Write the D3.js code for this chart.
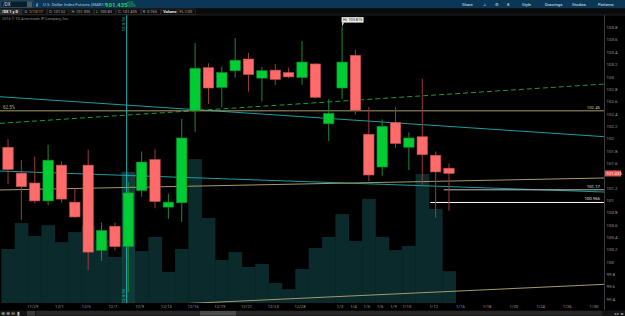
<!DOCTYPE html>
<html>
<head>
<meta charset="utf-8">
<script src="https://cdn.jsdelivr.net/npm/d3@7"></script>
<style>
  html, body { margin: 0; padding: 0; background: #000; }
  svg { display: block; font-family: Roboto, "Open Sans", sans-serif; }
</style>
</head>
<body>
<div class="result"></div>
<script>
// Width and height
const w = 625;
const h = 316;
const plotRight = 604;
const plotTop = 15;
const plotBottom = 303;

// Trading days (past + future space on the right)
const dates = ['11/25', '11/28', '11/29', '11/30', '12/1', '12/2', '12/5', '12/6', '12/7', '12/8', '12/9',
  '12/12', '12/13', '12/14', '12/15', '12/16', '12/19', '12/20', '12/21', '12/22', '12/23', '12/27',
  '12/28', '12/29', '12/30', '1/3', '1/4', '1/5', '1/6', '1/9', '1/10', '1/11', '1/12', '1/13',
  '1/16', '1/17', '1/18', '1/19', '1/20', '1/23', '1/24', '1/25', '1/26', '1/27', '1/30'];

// OHLC + volume, one value per traded day
const open = [101.86, 101.44, 101.28, 100.99, 101.57, 100.97, 101.57, 100.19, 100.58, 100.25, 101.16, 101.66,
  100.89, 100.96, 102.46, 103.15, 102.83, 103.10, 103.29, 102.98, 103.11, 103.07, 102.99, 103.21, 102.24,
  102.82, 103.35, 102.07, 101.54, 102.26, 101.86, 102.03, 101.73, 101.52];
const high = [101.99, 101.65, 101.71, 101.90, 101.63, 101.19, 101.82, 100.64, 100.64, 101.29, 101.79, 101.83,
  101.11, 102.32, 103.55, 103.22, 103.17, 103.63, 103.39, 103.16, 103.21, 103.15, 103.58, 103.22, 102.64,
  103.815, 103.44, 102.51, 102.31, 102.51, 102.10, 102.97, 101.79, 101.595];
const low = [101.26, 100.68, 100.95, 100.92, 100.96, 100.71, 99.87, 100.02, 100.19, 99.51, 101.06, 100.87,
  100.70, 100.65, 102.11, 102.56, 102.51, 102.99, 102.76, 102.60, 102.87, 102.98, 102.87, 102.65, 101.96,
  102.64, 102.39, 101.31, 101.40, 101.85, 101.49, 101.25, 100.72, 100.83];
const close = [101.50, 101.22, 100.99, 101.65, 101.02, 100.73, 100.16, 100.51, 100.25, 101.12, 101.62, 100.98,
  100.97, 102.01, 103.14, 102.82, 103.07, 103.27, 103.04, 103.10, 102.96, 103.00, 103.24, 102.67, 102.41,
  103.24, 102.46, 101.41, 102.20, 101.92, 102.01, 101.74, 101.46, 101.435];
const volume = [15600, 23100, 19400, 22500, 17600, 20500, 22300, 18200, 13300, 37900, 15000, 19100, 9000,
  15600, 41600, 24600, 12400, 14700, 10400, 11300, 5800, 4000, 9800, 15900, 19100, 25700, 17900, 30100,
  19100, 15300, 16500, 37300, 27200, 9200];

// Axis labels
const dateLabels = ['11/29', '12/1', '12/5', '12/7', '12/9', '12/13', '12/15', '12/19', '12/21', '12/23',
  '12/28', '1/3', '1/4', '1/5', '1/6', '1/9', '1/10', '1/12', '1/16', '1/18', '1/20', '1/24', '1/26', '1/30'];
const priceTicks = d3.range(99.4, 103.81, 0.2);

// Drawings: trendlines [date, price] -> [date, price], horizontal levels
const trendLines = [
  { from: ['11/25', 102.67], to: ['1/30', 102.04], color: '#1b9ea0', dash: null },
  { from: ['11/25', 102.256], to: ['1/30', 102.876], color: '#1f9a34', dash: '5,3' },
  { from: ['11/25', 101.47], to: ['1/30', 101.139], color: '#1b9ea0', dash: null },
  { from: ['11/25', 101.17], to: ['1/30', 101.359], color: '#a39a6a', dash: null },
  { from: ['12/28', 99.413], to: ['1/30', 99.632], color: '#a39a6a', dash: null }
];
const fibLevel = { price: 102.45, pct: '62.5%' };
const priceLevels = [
  { start: '1/13', price: 101.17, label: '101.17', color: '#bdbdbd' },
  { start: '1/12', price: 100.965, label: '100.965', color: '#ffffff' }
];
const markerDate = '12/8';
const lastPrice = 101.435;

// Scales
const xScale = d3.scalePoint().domain(dates).range([0, plotRight]).padding(0.6);
const step = xScale.step();
const xIdx = d3.scaleLinear().domain([0, dates.length - 1]).range([xScale(dates[0]), xScale(dates[dates.length - 1])]);
const yScale = d3.scaleLinear().domain([100, 103]).range([262, 76.9]);
const vScale = d3.scaleLinear().domain([0, 50000]).range([plotBottom, 130]);

const bars = open.map((o, i) => ({
  date: dates[i], o: o, h: high[i], l: low[i], c: close[i], v: volume[i]
}));

// Create SVG element
const svg = d3.select('.result').append('svg').attr('width', w).attr('height', h);
svg.append('rect').attr('width', w).attr('height', h).attr('fill', '#000');

svg.append('clipPath').attr('id', 'plot')
  .append('rect').attr('x', 0).attr('y', plotTop).attr('width', plotRight).attr('height', plotBottom - plotTop);
const plot = svg.append('g').attr('clip-path', 'url(#plot)');

// Volume histogram
plot.selectAll('rect.vol')
  .data(bars)
  .enter()
  .append('rect')
  .attr('class', 'vol')
  .attr('x', d => xScale(d.date) - step / 2)
  .attr('y', d => vScale(d.v))
  .attr('width', step + 0.3)
  .attr('height', d => plotBottom - vScale(d.v))
  .attr('fill', d => d.date === markerDate ? '#123a3b' : '#0b2a2b');

// Trend lines, extended across the whole plot
const lineGen = d3.line();
trendLines.forEach(t => {
  const i0 = dates.indexOf(t.from[0]);
  const i1 = dates.indexOf(t.to[0]);
  const p = d3.scaleLinear().domain([i0, i1]).range([t.from[1], t.to[1]]);
  const a = xIdx.invert(0);
  const b = xIdx.invert(plotRight);
  plot.append('path')
    .attr('d', lineGen([[0, yScale(p(a))], [plotRight, yScale(p(b))]]))
    .attr('stroke', t.color)
    .attr('stroke-width', 1)
    .attr('stroke-dasharray', t.dash)
    .attr('fill', 'none');
});

// Fib level
plot.append('line')
  .attr('x1', 0).attr('x2', plotRight)
  .attr('y1', yScale(fibLevel.price)).attr('y2', yScale(fibLevel.price))
  .attr('stroke', '#a89c6c').attr('stroke-width', 1);
svg.append('text').attr('x', 3).attr('y', yScale(fibLevel.price) - 2)
  .attr('font-size', 4.5).attr('fill', '#b8ad80').text(fibLevel.pct);
svg.append('text').attr('x', 600).attr('y', yScale(fibLevel.price) - 2)
  .attr('text-anchor', 'end').attr('font-size', 4.3).attr('fill', '#d8cfa8')
  .text(fibLevel.price.toFixed(2));

// Price levels
priceLevels.forEach(l => {
  plot.append('line')
    .attr('x1', xScale(l.start) - 5.3).attr('x2', plotRight)
    .attr('y1', yScale(l.price)).attr('y2', yScale(l.price))
    .attr('stroke', l.color).attr('stroke-width', 1);
  svg.append('text').attr('x', 600).attr('y', yScale(l.price) - 2)
    .attr('text-anchor', 'end').attr('font-size', 4.3).attr('fill', '#e0e0e0').text(l.label);
});

// Vertical marker line
const mx = xScale(markerDate) - 1.6;
plot.append('line')
  .attr('x1', mx).attr('x2', mx).attr('y1', plotTop).attr('y2', plotBottom)
  .attr('stroke', '#22b5b8').attr('stroke-width', 1);
[24, 296].forEach(cy => {
  svg.append('text')
    .attr('transform', 'translate(' + (mx - 2) + ',' + cy + ') rotate(-90)')
    .attr('text-anchor', 'middle').attr('font-size', 4).attr('fill', '#22b5b8')
    .text('12/8/16');
});

// Candles
const bodyW = 10.4;
const candle = plot.selectAll('g.candle')
  .data(bars)
  .enter()
  .append('g')
  .attr('class', 'candle');

candle.append('line')
  .attr('x1', d => xScale(d.date)).attr('x2', d => xScale(d.date))
  .attr('y1', d => yScale(d.h)).attr('y2', d => yScale(d.l))
  .attr('stroke', d => d.c >= d.o ? '#1f8a2c' : '#9c3a3a')
  .attr('stroke-width', 1);

candle.append('rect')
  .attr('x', d => xScale(d.date) - bodyW / 2)
  .attr('y', d => yScale(Math.max(d.o, d.c)))
  .attr('width', bodyW)
  .attr('height', d => Math.max(1, Math.abs(yScale(d.o) - yScale(d.c))))
  .attr('fill', d => d.c >= d.o ? '#00cc33' : '#ff6a6a')
  .attr('stroke', d => d.c >= d.o ? '#0a8f2a' : '#c24c4c')
  .attr('stroke-width', 0.6);

// High bubble
const hiBar = bars[d3.maxIndex(bars, d => d.h)];
const hx = xScale(hiBar.date);
const hy = yScale(hiBar.h);
svg.append('path')
  .attr('d', 'M' + hx + ',' + hy + 'L' + hx + ',' + (hy - 4) + 'L' + (hx + 2) + ',' + (hy - 4) + 'Z')
  .attr('fill', '#e8e8e8');
svg.append('rect').attr('x', hx - 0.5).attr('y', hy - 9.5).attr('width', 22).attr('height', 5.5)
  .attr('fill', '#e8e8e8');
svg.append('text').attr('x', hx + 10.5).attr('y', hy - 5.3).attr('text-anchor', 'middle')
  .attr('font-size', 3.8).attr('fill', '#222').text('Hi: ' + hiBar.h.toFixed(3));

// Right price axis (ticks hidden behind the last-price tag are skipped)
svg.append('line').attr('x1', plotRight + 0.5).attr('x2', plotRight + 0.5).attr('y1', plotTop).attr('y2', 310)
  .attr('stroke', '#3c3c3c');
svg.selectAll('text.ptick')
  .data(priceTicks.filter(d => Math.abs(yScale(d) - yScale(lastPrice)) > 5))
  .enter()
  .append('text')
  .attr('class', 'ptick')
  .attr('x', 606.5)
  .attr('y', d => yScale(d) + 1.6)
  .attr('font-size', 4.4)
  .attr('fill', '#9a9a9a')
  .text(d => String(+d.toFixed(1)));
svg.append('rect').attr('x', 605).attr('y', yScale(lastPrice) - 3).attr('width', 16).attr('height', 6)
  .attr('fill', '#e25656');
svg.append('text').attr('x', 606).attr('y', yScale(lastPrice) + 1.6).attr('font-size', 4.4)
  .attr('fill', '#ffe0e0').text(lastPrice.toFixed(3));

// Bottom date axis
svg.selectAll('text.dtick')
  .data(dateLabels)
  .enter()
  .append('text')
  .attr('class', 'dtick')
  .attr('x', d => xScale(d) - 2)
  .attr('y', 308)
  .attr('text-anchor', 'middle')
  .attr('font-size', 4.2)
  .attr('fill', '#9a9a9a')
  .text(d => d);

// Scroll bar + zoom icons
svg.append('rect').attr('x', 0).attr('y', 310.5).attr('width', w).attr('height', 5.5).attr('fill', '#141414');
svg.append('rect').attr('x', 36).attr('y', 311).attr('width', 566).attr('height', 4.5).attr('fill', '#262626');
svg.append('rect').attr('x', 200).attr('y', 311).attr('width', 36).attr('height', 4.5).attr('fill', '#4a4a4a');
svg.append('text').attr('x', 1).attr('y', 315).attr('font-size', 5).attr('fill', '#bbb').text('⊕ ⊕ ⊖ ▮');
svg.append('rect').attr('x', 27).attr('y', 311).attr('width', 8).attr('height', 4.5).attr('fill', '#3a3a3a');
svg.append('text').attr('x', 624).attr('y', 315).attr('text-anchor', 'end').attr('font-size', 4)
  .attr('fill', '#aaa').text('◂ ▸ ◂▸');

// Top toolbar
svg.append('rect').attr('width', w).attr('height', 8.5).attr('fill', '#0c3655');
svg.append('rect').attr('x', 1).attr('y', 1).attr('width', 32).attr('height', 6.5).attr('fill', '#0a1e2e')
  .attr('stroke', '#4d6b80').attr('stroke-width', 0.5);
svg.append('text').attr('x', 3).attr('y', 6).attr('font-size', 4.5).attr('fill', '#ddd').text('/DX');
svg.append('rect').attr('x', 27).attr('y', 1.5).attr('width', 5).attr('height', 5.5).attr('fill', '#4a5a66');
svg.append('text').attr('x', 36).attr('y', 6.5).attr('font-size', 5).attr('fill', '#ccc').text('ℓ');
svg.append('text').attr('x', 43).attr('y', 6).attr('font-size', 4.3).attr('fill', '#b9c6d0')
  .text('U.S. Dollar Index Futures (MAR17)');
svg.append('text').attr('x', 105).attr('y', 6.6).attr('font-size', 6).attr('font-weight', 'bold')
  .attr('fill', '#27d34a').text(lastPrice.toFixed(3));
svg.append('text').attr('x', 127).attr('y', 3.7).attr('font-size', 2.6).attr('fill', '#27d34a').text('+0.02');
svg.append('text').attr('x', 127).attr('y', 7).attr('font-size', 2.6).attr('fill', '#27d34a').text('+0.02%');
const tools = [['Share', 462], ['⊥', 483], ['⚙', 495], ['8', 507], ['Style', 522], ['Drawings', 545],
  ['Studies', 572], ['Patterns', 598]];
tools.forEach(t => {
  svg.append('text').attr('x', t[1]).attr('y', 5.8).attr('font-size', 4.2).attr('fill', '#dde6ee').text(t[0]);
});

// Info row
svg.append('rect').attr('y', 8.5).attr('width', w).attr('height', 6.5).attr('fill', '#0a0a0a');
svg.append('line').attr('x1', 0).attr('x2', w).attr('y1', 15).attr('y2', 15).attr('stroke', '#333').attr('stroke-width', 0.6);
const info = ['/DX 1 y D', 'D: 1/13/17', 'O: 101.52', 'H: 101.595', 'L: 100.83', 'C: 101.435', 'R: 0.765', 'Volume', 'FL:1:00'];
let ix = 0.5;
info.forEach((s, i) => {
  const tw = s.length * 2.05 + 3;
  svg.append('rect').attr('x', ix).attr('y', 9).attr('width', tw).attr('height', 5.5)
    .attr('fill', i === 0 ? '#2a2a2a' : '#0d0d0d').attr('stroke', '#3a3a3a').attr('stroke-width', 0.5);
  svg.append('text').attr('x', ix + 1.5).attr('y', 13.2).attr('font-size', 3.9)
    .attr('font-weight', (i === 0 || s === 'Volume') ? 'bold' : 'normal')
    .attr('fill', (i === 0 || s === 'Volume') ? '#eee' : '#aaa').text(s);
  ix += tw + 1;
});
svg.append('text').attr('x', 2).attr('y', 20).attr('font-size', 3.8).attr('fill', '#8a8a8a')
  .text('2016 © TD Ameritrade IP Company, Inc.');
</script>
</body>
</html>
